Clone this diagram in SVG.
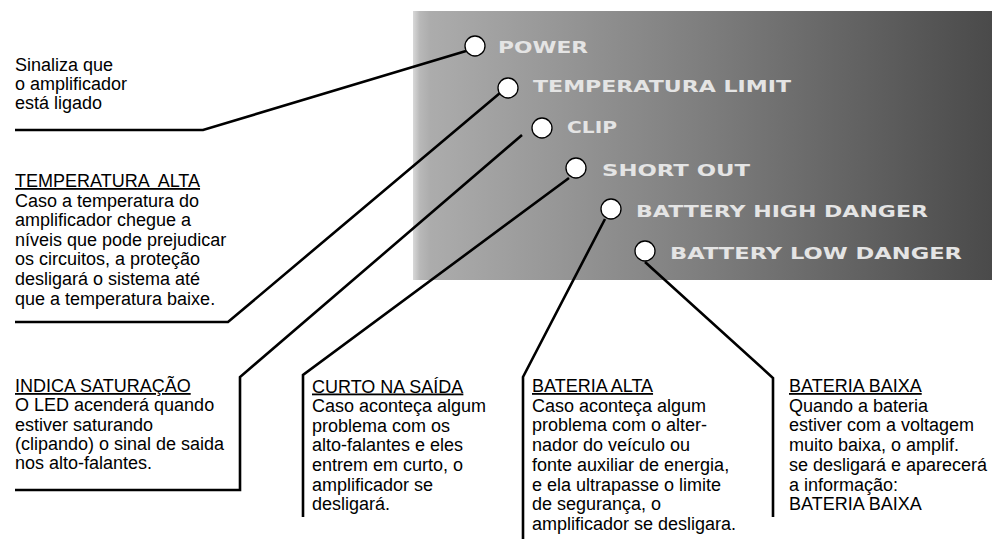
<svg xmlns="http://www.w3.org/2000/svg" width="996" height="539" viewBox="0 0 996 539">
<defs>
<linearGradient id="panelGrad" x1="0" y1="0" x2="1" y2="0">
<stop offset="0" stop-color="#d8d8d8"/>
<stop offset="0.012" stop-color="#b8b8b8"/>
<stop offset="0.03" stop-color="#acacac"/>
<stop offset="0.5" stop-color="#7e7e7e"/>
<stop offset="1" stop-color="#4a4a4a"/>
</linearGradient>
<style>
.led{fill:#ffffff;stroke:#000000;stroke-width:1.3}
.lbl{font-family:"DejaVu Sans",sans-serif;font-weight:bold;font-size:15px;fill:#e4e4e4}
.txt{font-family:"Liberation Sans",Arial,sans-serif;font-size:18px;fill:#000000}
.hd{text-decoration:underline}
.conn{fill:none;stroke:#000000;stroke-width:2.6;stroke-linejoin:miter}
</style>
</defs>
<rect id="panel" x="413" y="11" width="579" height="269" fill="url(#panelGrad)"/>
<g id="connectors">
<polyline class="conn" points="15,130 203,130 466,51"/>
<polyline class="conn" points="15,322 228,322 500,93"/>
<polyline class="conn" points="15,490 240,490 240,377 522,135"/>
<polyline class="conn" points="303,517 303,375 569,178"/>
<polyline class="conn" points="523,539 523,377 605,219"/>
<polyline class="conn" points="773,517 773,378 645,262"/>
</g>
<g id="led-power">
<circle class="led" cx="475" cy="46" r="10"/>
<text class="lbl" x="498" y="52.5" textLength="90" lengthAdjust="spacingAndGlyphs">POWER</text>
</g>
<g id="led-temperatura">
<circle class="led" cx="508" cy="88" r="10"/>
<text class="lbl" x="533" y="92" textLength="258" lengthAdjust="spacingAndGlyphs">TEMPERATURA LIMIT</text>
</g>
<g id="led-clip">
<circle class="led" cx="542" cy="128" r="10"/>
<text class="lbl" x="567" y="133" textLength="50" lengthAdjust="spacingAndGlyphs">CLIP</text>
</g>
<g id="led-short">
<circle class="led" cx="576" cy="168" r="10"/>
<text class="lbl" x="602" y="175.5" textLength="148" lengthAdjust="spacingAndGlyphs">SHORT OUT</text>
</g>
<g id="led-batt-high">
<circle class="led" cx="611" cy="209" r="10"/>
<text class="lbl" x="636" y="217" textLength="292" lengthAdjust="spacingAndGlyphs">BATTERY HIGH DANGER</text>
</g>
<g id="led-batt-low">
<circle class="led" cx="645" cy="251" r="10"/>
<text class="lbl" x="670" y="258.5" textLength="292" lengthAdjust="spacingAndGlyphs">BATTERY LOW DANGER</text>
</g>
<g id="note-power">
<text class="txt" x="15" y="70.5">Sinaliza que</text>
<text class="txt" x="15" y="89.5">o amplificador</text>
<text class="txt" x="15" y="108.5">está ligado</text>
</g>
<g id="note-temperatura">
<text class="txt hd" x="15" y="187" style="white-space:pre">TEMPERATURA  ALTA</text>
<text class="txt" x="15" y="206.6">Caso a temperatura do</text>
<text class="txt" x="15" y="226.2">amplificador chegue a</text>
<text class="txt" x="15" y="245.8">níveis que pode prejudicar</text>
<text class="txt" x="15" y="265.4">os circuitos, a proteção</text>
<text class="txt" x="15" y="285">desligará o sistema até</text>
<text class="txt" x="15" y="304.6">que a temperatura baixe.</text>
</g>
<g id="note-clip">
<text class="txt hd" x="15" y="392">INDICA SATURAÇÃO</text>
<text class="txt" x="15" y="411.3">O LED acenderá quando</text>
<text class="txt" x="15" y="430.6">estiver saturando</text>
<text class="txt" x="15" y="449.9">(clipando) o sinal de saida</text>
<text class="txt" x="15" y="469.2">nos alto-falantes.</text>
</g>
<g id="note-short">
<text class="txt hd" x="312" y="392.5">CURTO NA SAÍDA</text>
<text class="txt" x="312" y="412.1">Caso aconteça algum</text>
<text class="txt" x="312" y="431.7">problema com os</text>
<text class="txt" x="312" y="451.3">alto-falantes e eles</text>
<text class="txt" x="312" y="470.9">entrem em curto, o</text>
<text class="txt" x="312" y="490.5">amplificador se</text>
<text class="txt" x="312" y="510.1">desligará.</text>
</g>
<g id="note-batt-high">
<text class="txt hd" x="532" y="392">BATERIA ALTA</text>
<text class="txt" x="532" y="411.7">Caso aconteça algum</text>
<text class="txt" x="532" y="431.4">problema com o alter-</text>
<text class="txt" x="532" y="451.1">nador do veículo ou</text>
<text class="txt" x="532" y="470.8">fonte auxiliar de energia,</text>
<text class="txt" x="532" y="490.5">e ela ultrapasse o limite</text>
<text class="txt" x="532" y="510.2">de segurança, o</text>
<text class="txt" x="532" y="529.9">amplificador se desligara.</text>
</g>
<g id="note-batt-low">
<text class="txt hd" x="789" y="392">BATERIA BAIXA</text>
<text class="txt" x="789" y="411.7">Quando a bateria</text>
<text class="txt" x="789" y="431.4">estiver com a voltagem</text>
<text class="txt" x="789" y="451.1">muito baixa, o amplif.</text>
<text class="txt" x="789" y="470.8">se desligará e aparecerá</text>
<text class="txt" x="789" y="490.5">a informação:</text>
<text class="txt" x="789" y="510.2">BATERIA BAIXA</text>
</g>
</svg>
